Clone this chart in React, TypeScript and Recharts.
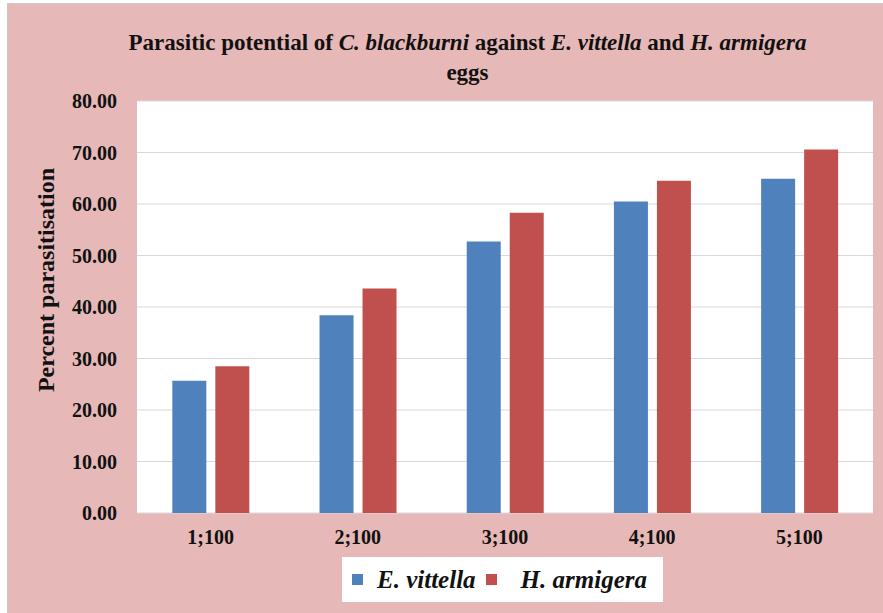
import { BarChart, Bar, XAxis, YAxis, CartesianGrid } from 'recharts';

const categories = ['1;100', '2;100', '3;100', '4;100', '5;100'];
const eVittella = [25.7, 38.4, 52.7, 60.5, 64.9];
const hArmigera = [28.5, 43.6, 58.3, 64.5, 70.6];
const yTicks = [0, 10, 20, 30, 40, 50, 60, 70, 80];

const SERIES = [
  { key: 'ev', name: 'E. vittella', color: '#4f81bd' },
  { key: 'ha', name: 'H. armigera', color: '#c0504d' },
];

const FONT = '"Liberation Serif", "Times New Roman", "DejaVu Serif", serif';
const PINK = '#e6b8b7';

const data = categories.map((c, i) => ({ cat: c, ev: eVittella[i], ha: hArmigera[i] }));

// axis title sits a bit above the plot's middle in the original
function YLabel() {
  const cx = 46;
  const cy = 280;
  return (
    <text
      x={cx}
      y={cy}
      transform={`rotate(-90, ${cx}, ${cy})`}
      textAnchor="middle"
      dominantBaseline="central"
      fontFamily={FONT}
      fontWeight="bold"
      fontSize={24}
      fill="#111"
    >
      Percent parasitisation
    </text>
  );
}

export default function App() {
  return (
    <div style={{ position: 'absolute', left: 0, top: 0, width: 883, height: 613, background: '#fff', overflow: 'hidden' }}>
      <div
        style={{
          position: 'absolute',
          left: 7,
          top: 3,
          width: 876,
          height: 610,
          background: PINK,
          borderTop: '1px solid #c9c9c9',
          borderLeft: '1px solid #c9c9c9',
        }}
      />
      <div
        style={{
          position: 'absolute',
          left: 0,
          top: 28,
          width: 935,
          textAlign: 'center',
          fontFamily: FONT,
          fontWeight: 'bold',
          fontSize: 23,
          lineHeight: '30px',
          color: '#111',
        }}
      >
        Parasitic potential of <i>C. blackburni</i> against <i>E. vittella</i> and <i>H. armigera</i>
        <br />
        eggs
      </div>
      <div style={{ position: 'absolute', left: 0, top: 0 }}>
        <BarChart
          width={883}
          height={613}
          data={data}
          margin={{ top: 101, right: 10, bottom: 66, left: 7 }}
          barCategoryGap="24%"
          barGap={9}
        >
          <CartesianGrid vertical={false} stroke="#d9d9d9" fill="#ffffff" />
          <XAxis
            dataKey="cat"
            axisLine={false}
            tickLine={false}
            height={34}
            tickMargin={11}
            tick={{ fontFamily: FONT, fontWeight: 'bold', fontSize: 20, fill: '#111' }}
          />
          <YAxis
            domain={[0, 80]}
            ticks={yTicks}
            interval={0}
            width={130}
            axisLine={false}
            tickLine={false}
            tickSize={0}
            tickMargin={20}
            tickFormatter={(v: number) => v.toFixed(2)}
            tick={{ fontFamily: FONT, fontWeight: 'bold', fontSize: 20, fill: '#111' }}
            label={<YLabel />}
          />
          {SERIES.map((s) => (
            <Bar key={s.key} dataKey={s.key} name={s.name} fill={s.color} isAnimationActive={false} />
          ))}
        </BarChart>
      </div>
      <div
        style={{
          position: 'absolute',
          left: 342,
          top: 557,
          width: 321,
          height: 45,
          background: '#fff',
          display: 'flex',
          alignItems: 'center',
          fontFamily: FONT,
          fontWeight: 'bold',
          fontStyle: 'italic',
          fontSize: 25,
          color: '#111',
        }}
      >
        {SERIES.map((s, i) => (
          <div key={s.key} style={{ display: 'flex', alignItems: 'center', marginLeft: 10 }}>
            <span style={{ display: 'inline-block', width: 11, height: 11, background: s.color, marginRight: i === 0 ? 14 : 24 }} />
            <span>{s.name}</span>
          </div>
        ))}
      </div>
    </div>
  );
}
